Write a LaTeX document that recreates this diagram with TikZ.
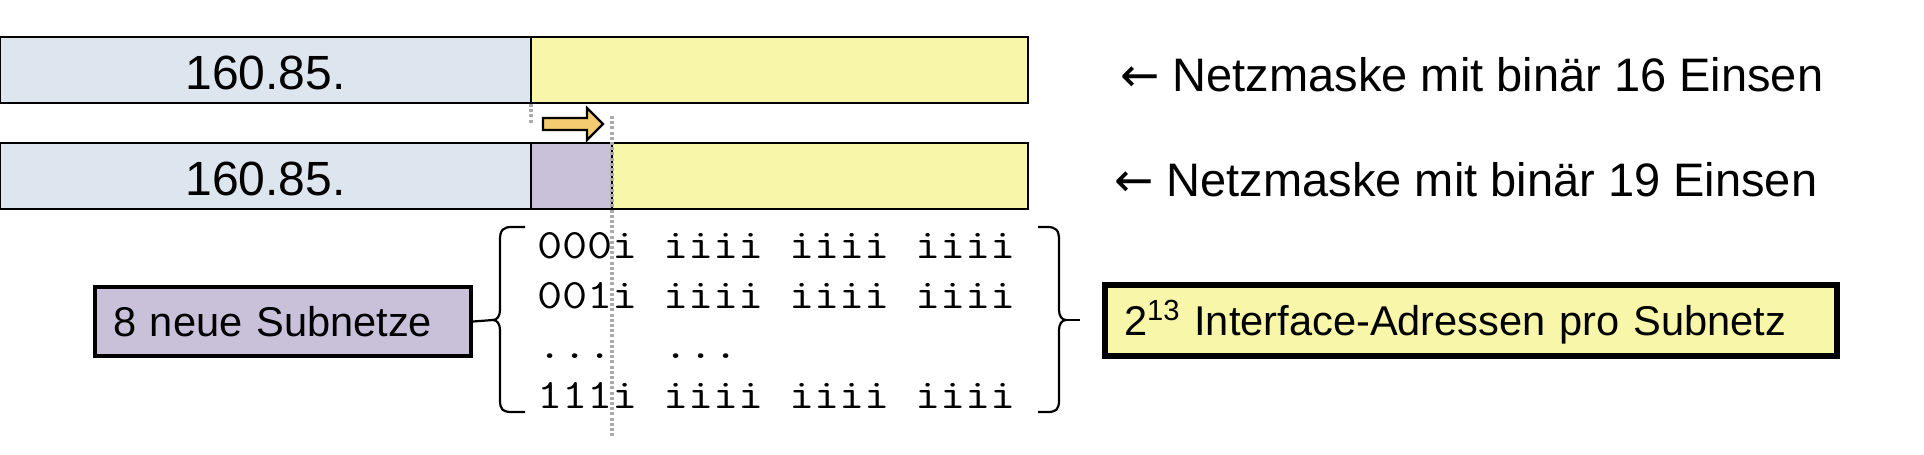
\documentclass[tikz,border=0pt]{standalone}
\usepackage{fontspec}
\setmainfont{Liberation Sans}
\setmonofont[FakeStretch=1.17]{Latin Modern Mono}
\newfontfamily\arrowfont{DejaVu Sans}
\definecolor{netblue}{HTML}{DDE5EF}
\definecolor{hostyellow}{HTML}{F8F7A9}
\definecolor{subpurple}{HTML}{C9C1DA}
\definecolor{arroworange}{HTML}{F5CB72}
\definecolor{guidegray}{HTML}{ABABAB}
\begin{document}
\begin{tikzpicture}[x=0.5pt,y=-0.5pt,
  bar/.style={draw=black, line width=0.9pt},
  guide/.style={draw=guidegray, line width=1.6pt, dash pattern=on 1.5pt off 1.1pt},
  bigtext/.style={inner sep=0pt, font=\fontsize{24pt}{28pt}\selectfont},
  labtext/.style={inner sep=0pt, anchor=base west, font=\fontsize{23.5pt}{28pt}\selectfont},
  monotext/.style={inner sep=0pt, anchor=base west, font=\ttfamily\fontsize{20.9pt}{24pt}\selectfont},
  boxtext/.style={font=\fontsize{20.8pt}{25pt}\selectfont, align=left, text depth=0pt, text height=15pt, anchor=west},
  brace/.style={draw=black, line width=1.1pt, line join=round},
  shiftarrow/.style={draw=black, line width=1.1pt, fill=arroworange, line join=miter}
]
\useasboundingbox (0,0) rectangle (1924,455);

% top bar (16 bit mask)
\filldraw[bar, fill=netblue] (0,37) rectangle (531,103);
\filldraw[bar, fill=hostyellow] (531,37) rectangle (1028,103);
% bottom bar (19 bit mask)
\filldraw[bar, fill=netblue] (0,143) rectangle (531,209);
\filldraw[bar, fill=subpurple] (531,143) rectangle (612,209);
\filldraw[bar, fill=hostyellow] (612,143) rectangle (1028,209);

\node[bigtext, anchor=base] (net1) at (265.5,89) {160.85.};
\node[bigtext, anchor=base] (net2) at (265.5,195) {160.85.};

\node[labtext] (lab1) at (1120,91) {{\arrowfont ←} Netzmaske mit binär 16 Einsen};
\node[labtext] (lab2) at (1114,196.5) {{\arrowfont ←} Netzmaske mit binär 19 Einsen};

% guide lines
\coordinate (g1a) at (531,104);
\coordinate (g1b) at (531,124);
\coordinate (g2a) at (612,116);
\coordinate (g2b) at (612,438);
\draw[guide] (g1a) -- (g1b);
\draw[guide] (g2a) -- (g2b);

% shift arrow
\filldraw[shiftarrow] (543,118) -- (587,118) -- (587,108) -- (603,124) -- (587,140) -- (587,130) -- (543,130) -- cycle;

% binary rows
\node[monotext] (r1) at (537,258) {000i iiii iiii iiii};
\node[monotext] (r2) at (537,308) {001i iiii iiii iiii};
\node[monotext] (r3) at (537,358) {...~~...};
\node[monotext] (r4) at (537,408) {111i iiii iiii iiii};

% boxes
\node[boxtext, draw=black, line width=2pt, fill=subpurple, minimum width=188pt, minimum height=34.5pt,
      inner xsep=9pt, text width=170pt] (sub) at (93,321.5) {8 neue Subnetze};
\node[boxtext, draw=black, line width=3pt, fill=hostyellow, minimum width=366pt, minimum height=35.5pt,
      inner xsep=9.5pt, text width=347pt] (hosts) at (1102,320.5) {2\textsuperscript{13} Interface-Adressen pro Subnetz};

% left brace
\coordinate (lt) at (493,320);
\draw[brace] (525,227) -- (512,227) .. controls (503,227) and (500,230) .. (500,240) -- (500,310)
  .. controls (500,316) and (497,320) .. (lt) .. controls (497,320) and (500,324) .. (500,330)
  -- (500,400) .. controls (500,410) and (503,412) .. (512,412) -- (525,412);
\draw[brace] (lt) -- (sub.east);

% right brace
\coordinate (rt) at (1066,320);
\coordinate (rtend) at (1080,320);
\draw[brace] (1038,227) -- (1047,227) .. controls (1056,227) and (1059,230) .. (1059,240) -- (1059,310)
  .. controls (1059,316) and (1062,320) .. (rt) .. controls (1062,320) and (1059,324) .. (1059,330)
  -- (1059,400) .. controls (1059,410) and (1056,412) .. (1047,412) -- (1038,412);
\draw[brace] (rt) -- (rtend);
\end{tikzpicture}
\end{document}
